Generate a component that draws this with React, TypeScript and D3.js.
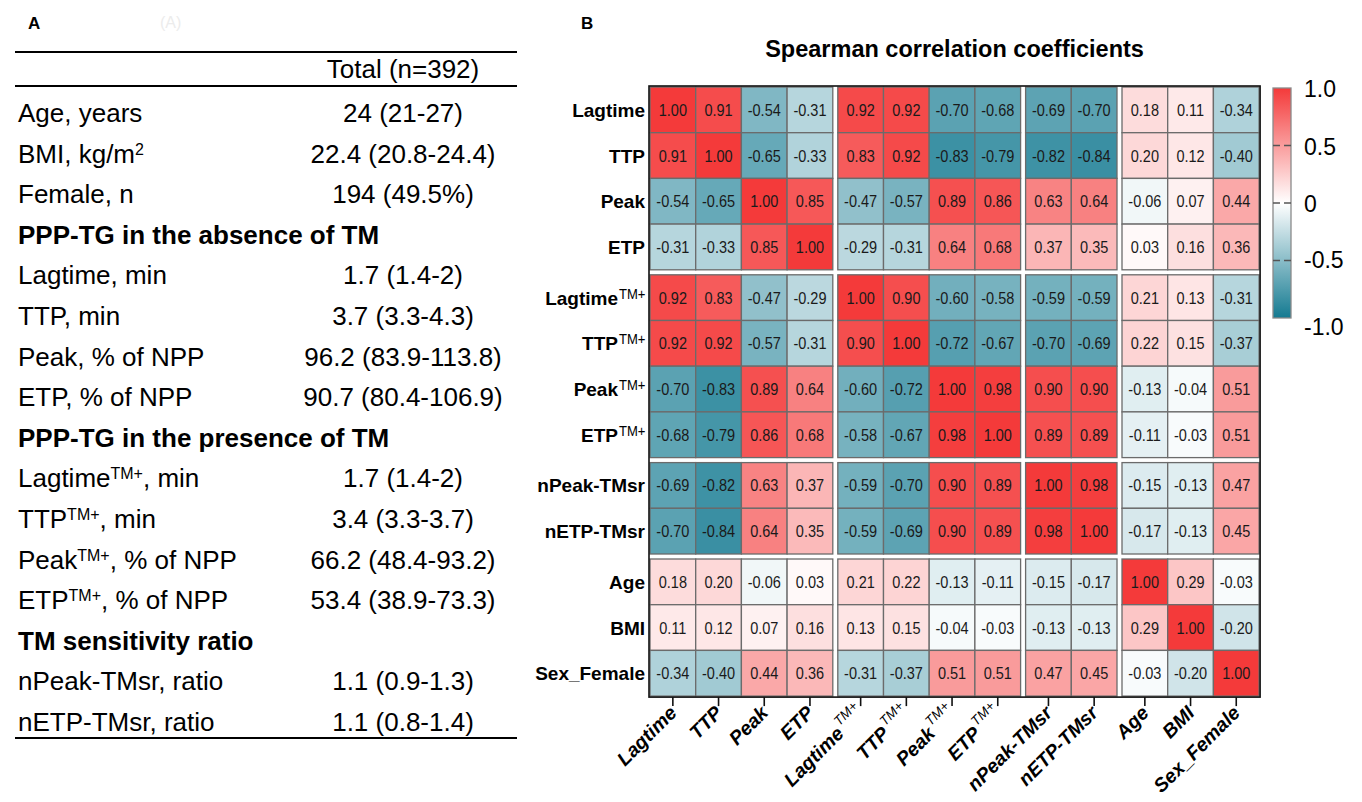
import React, { useEffect } from 'react';
import * as d3 from 'd3';

// heatmap variables (rows and columns share the same order)
const variables = ['Lagtime', 'TTP', 'Peak', 'ETP', 'Lagtime', 'TTP', 'Peak', 'ETP',
  'nPeak-TMsr', 'nETP-TMsr', 'Age', 'BMI', 'Sex_Female'];
const withTM = [false, false, false, false, true, true, true, true, false, false, false, false, false];
const groupSizes = [4, 4, 2, 3];

const corr = [
  [1.00, 0.91, -0.54, -0.31, 0.92, 0.92, -0.70, -0.68, -0.69, -0.70, 0.18, 0.11, -0.34],
  [0.91, 1.00, -0.65, -0.33, 0.83, 0.92, -0.83, -0.79, -0.82, -0.84, 0.20, 0.12, -0.40],
  [-0.54, -0.65, 1.00, 0.85, -0.47, -0.57, 0.89, 0.86, 0.63, 0.64, -0.06, 0.07, 0.44],
  [-0.31, -0.33, 0.85, 1.00, -0.29, -0.31, 0.64, 0.68, 0.37, 0.35, 0.03, 0.16, 0.36],
  [0.92, 0.83, -0.47, -0.29, 1.00, 0.90, -0.60, -0.58, -0.59, -0.59, 0.21, 0.13, -0.31],
  [0.92, 0.92, -0.57, -0.31, 0.90, 1.00, -0.72, -0.67, -0.70, -0.69, 0.22, 0.15, -0.37],
  [-0.70, -0.83, 0.89, 0.64, -0.60, -0.72, 1.00, 0.98, 0.90, 0.90, -0.13, -0.04, 0.51],
  [-0.68, -0.79, 0.86, 0.68, -0.58, -0.67, 0.98, 1.00, 0.89, 0.89, -0.11, -0.03, 0.51],
  [-0.69, -0.82, 0.63, 0.37, -0.59, -0.70, 0.90, 0.89, 1.00, 0.98, -0.15, -0.13, 0.47],
  [-0.70, -0.84, 0.64, 0.35, -0.59, -0.69, 0.90, 0.89, 0.98, 1.00, -0.17, -0.13, 0.45],
  [0.18, 0.20, -0.06, 0.03, 0.21, 0.22, -0.13, -0.11, -0.15, -0.17, 1.00, 0.29, -0.03],
  [0.11, 0.12, 0.07, 0.16, 0.13, 0.15, -0.04, -0.03, -0.13, -0.13, 0.29, 1.00, -0.20],
  [-0.34, -0.40, 0.44, 0.36, -0.31, -0.37, 0.51, 0.51, 0.47, 0.45, -0.03, -0.20, 1.00],
];

const legendTicks = [1, 0.5, 0, -0.5, -1];
const legendLabels = ['1.0', '0.5', '0', '-0.5', '-1.0'];
const legendDashes = [0.5, 0, -0.5];

// panel A table: label = [text, superscript, text after]
const tableHeader = 'Total (n=392)';
const tableLabels = [
  ['Age, years'], ['BMI, kg/m', '2'], ['Female, n'],
  ['PPP-TG in the absence of TM'],
  ['Lagtime, min'], ['TTP, min'], ['Peak, % of NPP'], ['ETP, % of NPP'],
  ['PPP-TG in the presence of TM'],
  ['Lagtime', 'TM+', ', min'], ['TTP', 'TM+', ', min'], ['Peak', 'TM+', ', % of NPP'], ['ETP', 'TM+', ', % of NPP'],
  ['TM sensitivity ratio'],
  ['nPeak-TMsr, ratio'], ['nETP-TMsr, ratio'],
];
const tableValues = [
  '24 (21-27)', '22.4 (20.8-24.4)', '194 (49.5%)', '',
  '1.7 (1.4-2)', '3.7 (3.3-4.3)', '96.2 (83.9-113.8)', '90.7 (80.4-106.9)', '',
  '1.7 (1.4-2)', '3.4 (3.3-3.7)', '66.2 (48.4-93.2)', '53.4 (38.9-73.3)', '',
  '1.1 (0.9-1.3)', '1.1 (0.8-1.4)',
];
const tableHeadings = [3, 8, 13];

const FONT = '"Liberation Sans", Arial, Helvetica, sans-serif';

export default function App() {
  useEffect(() => {
    document.body.style.margin = '0';
  }, []);

  // heatmap geometry
  const n = variables.length;
  const left = 650, top = 87, cell = 45.7, gap = 5;
  const groupOf: number[] = [];
  groupSizes.forEach((s, g) => { for (let k = 0; k < s; k++) groupOf.push(g); });
  const idx = d3.scaleLinear().domain([0, n]).range([0, n * cell]);
  const cx = (i: number) => left + idx(i) + groupOf[i] * gap;
  const cy = (i: number) => top + idx(i) + groupOf[i] * gap;
  const right = cx(n - 1) + cell;
  const bottom = cy(n - 1) + cell;

  const color = d3.scaleLinear<string>()
    .domain([-1, 0, 1])
    .range(['#147a91', '#ffffff', '#f43a3a'])
    .interpolate(d3.interpolateRgb);

  const legY = d3.scaleLinear().domain([1, -1]).range([88, 318]);
  const legX = 1273, legW = 18;
  const gradStops = d3.range(0, 1.0001, 0.1);

  // table geometry
  const rowY = d3.scaleLinear().domain([0, tableLabels.length - 1]).range([113, 722]);
  const valueX = 403;
  const fs = 26;

  return (
    <svg width={1362} height={802} style={{ display: 'block', background: '#fff' }} fontFamily={FONT}>
      <defs>
        <linearGradient id="leg" x1="0" y1="1" x2="0" y2="0">
          {gradStops.map(t => (
            <stop key={t} offset={t} stopColor={color(-1 + 2 * t)} />
          ))}
        </linearGradient>
      </defs>

      {/* Panel A */}
      <text x={28} y={29} fontSize={17} fontWeight="bold">A</text>
      <text x={160} y={28} fontSize={16} fill="#ececec">(A)</text>
      <line x1={15} x2={517} y1={52} y2={52} stroke="#000" strokeWidth={2} />
      <text x={valueX} y={69} fontSize={fs} textAnchor="middle" dominantBaseline="central">{tableHeader}</text>
      <line x1={15} x2={517} y1={86} y2={86} stroke="#000" strokeWidth={2} />
      {tableLabels.map((lab, i) => {
        const bold = tableHeadings.includes(i);
        return (
          <g key={i}>
            <text x={18} y={rowY(i) + 9} fontSize={fs} fontWeight={bold ? 'bold' : 'normal'}>
              {lab[0]}
              {lab[1] && <tspan fontSize={16} dy={-8}>{lab[1]}</tspan>}
              {lab[2] && <tspan dy={8}>{lab[2]}</tspan>}
            </text>
            {tableValues[i] && (
              <text x={valueX} y={rowY(i) + 9} fontSize={fs} textAnchor="middle">{tableValues[i]}</text>
            )}
          </g>
        );
      })}
      <line x1={15} x2={517} y1={738} y2={738} stroke="#000" strokeWidth={2} />

      {/* Panel B */}
      <text x={581} y={29} fontSize={17} fontWeight="bold">B</text>
      <text x={(left + right) / 2} y={57} fontSize={23.5} fontWeight="bold" textAnchor="middle">
        Spearman correlation coefficients
      </text>

      {corr.map((row, r) => row.map((v, c) => (
        <g key={`${r}-${c}`}>
          <rect x={cx(c)} y={cy(r)} width={cell} height={cell} fill={color(v)} stroke="#6b6b6b" strokeWidth={1.3} />
          <text transform={`translate(${cx(c) + cell / 2},${cy(r) + cell / 2 + 6}) scale(0.88,1)`} fontSize={16.5}
            fill="#1a1a1a" textAnchor="middle">{v.toFixed(2)}</text>
        </g>
      )))}
      <rect x={left - 1} y={top - 1} width={right - left + 2} height={bottom - top + 2}
        fill="none" stroke="#111" strokeWidth={1.6} />

      {/* y labels */}
      {variables.map((v, i) => (
        <text key={`y${i}`} x={withTM[i] ? 618 : 645} y={cy(i) + cell / 2 + 7} fontSize={19} fontWeight="bold"
          textAnchor="end">
          {v}
        </text>
      ))}
      {variables.map((v, i) => withTM[i] && (
        <text key={`ys${i}`} transform={`translate(619,${cy(i) + cell / 2 + 1}) scale(0.9,1)`} fontSize={14.5}>TM+</text>
      ))}

      {/* x ticks and labels */}
      {variables.map((v, i) => {
        const x = cx(i) + cell / 2;
        return (
          <g key={`x${i}`}>
            <line x1={x} x2={x} y1={bottom + 1} y2={bottom + 10} stroke="#111" strokeWidth={1.6} />
            <text transform={`translate(${x + 5},${bottom + 18}) rotate(-45)`} fontSize={19.5}
              fontWeight="bold" fontStyle="italic" textAnchor="end">
              {v}
              {withTM[i] && <tspan fontWeight="normal" fontSize={13.5} dy={-10} dx={2}>TM+</tspan>}
            </text>
          </g>
        );
      })}

      {/* colour legend */}
      <rect x={legX} y={legY(1)} width={legW} height={legY(-1) - legY(1)} fill="url(#leg)" stroke="#8a8a8a" strokeWidth={1.3} />
      {legendDashes.map(t => (
        <line key={t} x1={legX} x2={legX + legW} y1={legY(t)} y2={legY(t)} stroke="#555" strokeWidth={1.5} strokeDasharray="7,4" />
      ))}
      {legendTicks.map((t, i) => (
        <text key={t} x={1304} y={legY(t) + (t === -1 ? 17 : t === -0.5 ? 7 : 9)} fontSize={23}>{legendLabels[i]}</text>
      ))}
    </svg>
  );
}
